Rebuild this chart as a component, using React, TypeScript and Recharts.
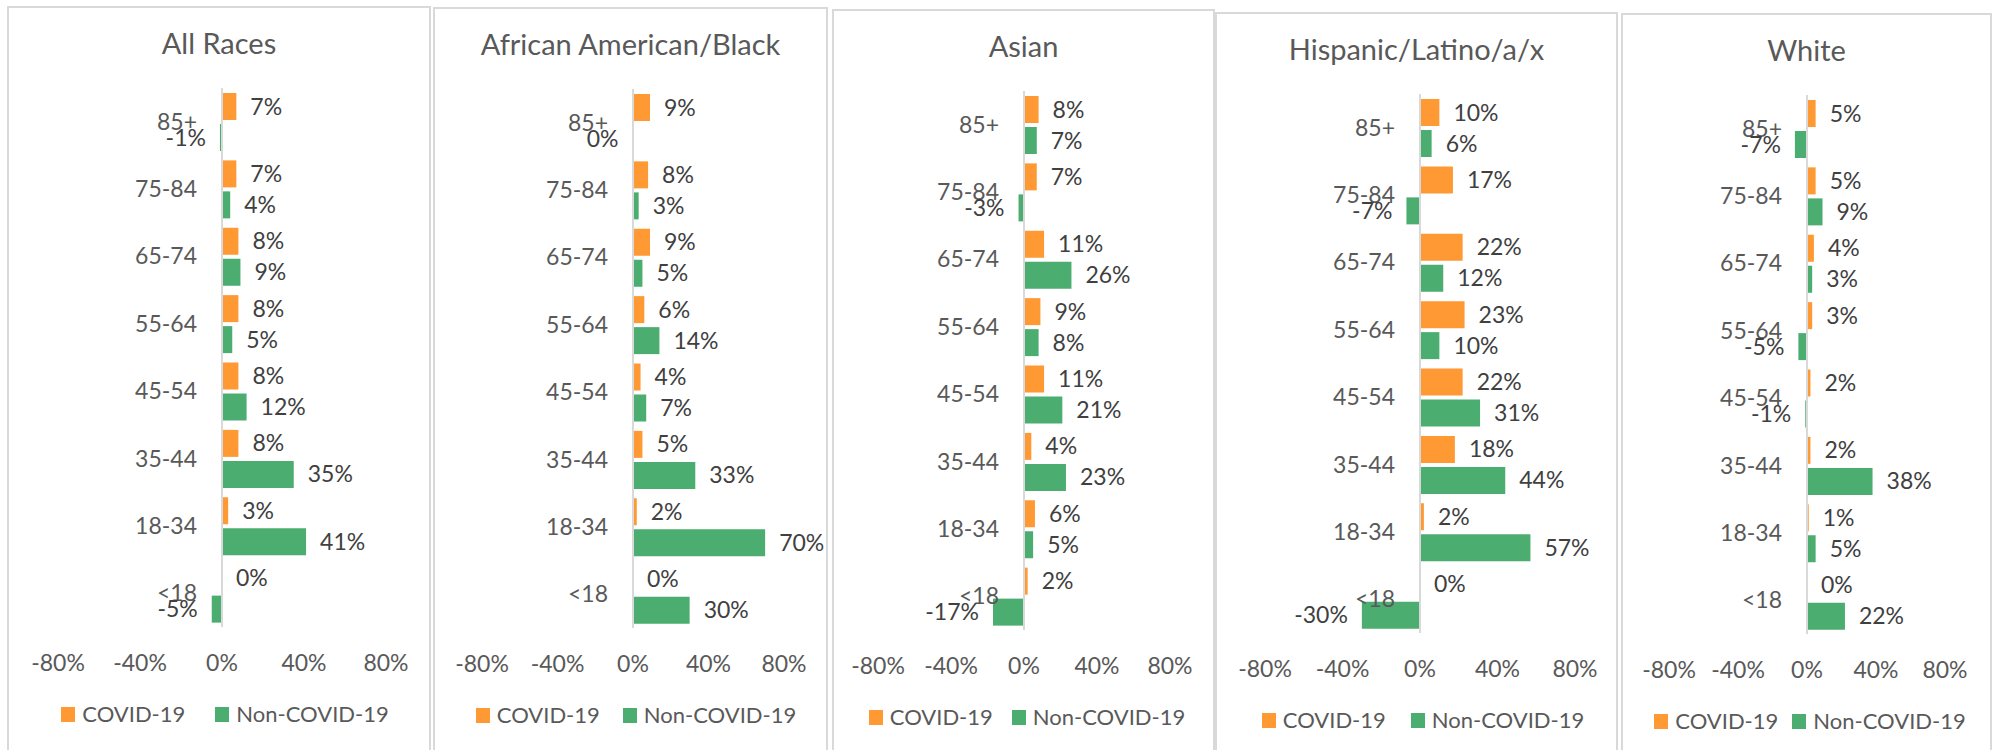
import { BarChart, Bar, XAxis, YAxis, ReferenceLine, LabelList, Legend } from "recharts";

// age bands, top to bottom
const ageGroups = ["85+", "75-84", "65-74", "55-64", "45-54", "35-44", "18-34", "<18"];
const xTicks = [-80, -40, 0, 40, 80];

// % change by race / ethnicity
const allRacesCovid = [7, 7, 8, 8, 8, 8, 3, 0];
const allRacesNonCovid = [-1, 4, 9, 5, 12, 35, 41, -5];
const blackCovid = [9, 8, 9, 6, 4, 5, 2, 0];
const blackNonCovid = [-0.3, 3, 5, 14, 7, 33, 70, 30];
const asianCovid = [8, 7, 11, 9, 11, 4, 6, 2];
const asianNonCovid = [7, -3, 26, 8, 21, 23, 5, -17];
const latinoCovid = [10, 17, 22, 23, 22, 18, 2, 0];
const latinoNonCovid = [6, -7, 12, 10, 31, 44, 57, -30];
const whiteCovid = [5, 5, 4, 3, 2, 2, 1, 0];
const whiteNonCovid = [-7, 9, 3, -5, -1, 38, 5, 22];

const ORANGE = "#FF9933";
const GREEN = "#4CAD70";
const TEXT = "#595959";
const FONT = "Lato, 'Open Sans', sans-serif";

const CHART_H = 740;
const PLOT_TOP = 82;
const PLOT_BOTTOM = 621;

const panels = [
  { title: "All Races", covid: allRacesCovid, nonCovid: allRacesNonCovid, left: 7, top: 6, width: 424, zero: 215, half: 164, legendGap: 30 },
  { title: "African American/Black", covid: blackCovid, nonCovid: blackNonCovid, left: 433, top: 7, width: 395, zero: 200, half: 151, legendGap: 23 },
  { title: "Asian", covid: asianCovid, nonCovid: asianNonCovid, left: 832, top: 9, width: 383, zero: 192, half: 146, legendGap: 19 },
  { title: "Hispanic/Latino/a/x", covid: latinoCovid, nonCovid: latinoNonCovid, left: 1215, top: 12, width: 403, zero: 205, half: 155, legendGap: 25 },
  { title: "White", covid: whiteCovid, nonCovid: whiteNonCovid, left: 1621, top: 13, width: 371, zero: 186, half: 138, legendGap: 14 },
];

const num = (v: any) => {
  const n = Number(v);
  return Number.isFinite(n) ? n : 0;
};

// zero values get a hair-width bar so their "0%" label is still drawn
const hairline = (v: any) => (Number(v) === 0 ? 0.01 : 0);

const BarValueLabel = (props: any) => {
  const vb = props.viewBox || props;
  const v = num(props.value);
  const a = num(vb.x ?? props.x);
  const b = a + num(vb.width ?? props.width);
  const y = num(vb.y ?? props.y);
  const h = num(vb.height ?? props.height);
  const neg = v < 0 || Object.is(v, -0);
  const end = neg ? Math.min(a, b) : Math.max(a, b);
  return (
    <text
      x={neg ? end - 14 : end + 14}
      y={y + h / 2}
      dy="0.35em"
      textAnchor={neg ? "end" : "start"}
      fill="#404040"
      fontSize={23}
      fontFamily={FONT}
    >
      {`${Math.round(v)}%`}
    </text>
  );
};

function Panel({ p }: { p: (typeof panels)[number] }) {
  const data = ageGroups.map((age, i) => ({ age, covid: p.covid[i], nonCovid: p.nonCovid[i] }));
  const plotLeft = p.zero - p.half;
  const plotRight = p.width - (p.zero + p.half);
  const legendShift = (p.zero + 3 - p.width / 2) * 2;

  const CategoryTick = (props: any) => (
    <text x={p.zero - 25} y={props.y} dy="0.35em" textAnchor="end" fill={TEXT} fontSize={23} fontFamily={FONT}>
      {props.payload.value}
    </text>
  );
  const ValueTick = (props: any) => (
    <text x={props.x} y={PLOT_BOTTOM + 36} dy="0.35em" textAnchor="middle" fill={TEXT} fontSize={23} fontFamily={FONT}>
      {`${props.payload.value}%`}
    </text>
  );

  const legendItem = (color: string, label: string) => (
    <div style={{ display: "flex", alignItems: "center" }}>
      <span style={{ width: 14, height: 15, background: color, display: "inline-block", marginRight: 7 }} />
      <span>{label}</span>
    </div>
  );

  return (
    <div style={{ position: "absolute", left: p.left, top: p.top, width: p.width, height: 800 }}>
      <div
        style={{
          position: "absolute",
          inset: 0,
          border: "2px solid #d9d9d9",
          boxSizing: "border-box",
        }}
      />
      <div
        style={{
          position: "absolute",
          left: 0,
          width: p.width,
          top: 36,
          transform: "translateY(-50%)",
          textAlign: "center",
          fontFamily: FONT,
          fontSize: 29,
          lineHeight: 1,
          color: TEXT,
        }}
      >
        {p.title}
      </div>
      <div style={{ position: "absolute", left: 0, top: 0 }}>
        <BarChart
          width={p.width}
          height={CHART_H}
          data={data}
          layout="vertical"
          margin={{ top: PLOT_TOP, right: plotRight, bottom: CHART_H - PLOT_BOTTOM - 40, left: plotLeft - 2 }}
          barSize={27}
          barGap={4}
        >
          <XAxis
            type="number"
            domain={[-80, 80]}
            ticks={xTicks}
            allowDataOverflow
            axisLine={false}
            tickLine={false}
            height={40}
            tick={<ValueTick />}
          />
          <YAxis
            type="category"
            dataKey="age"
            width={2}
            axisLine={false}
            tickLine={false}
            interval={0}
            tick={<CategoryTick />}
          />
          <ReferenceLine x={0} stroke="#d9d9d9" strokeWidth={2} />
          <Bar dataKey="covid" name="COVID-19" fill={ORANGE} minPointSize={hairline} isAnimationActive={false}>
            <LabelList dataKey="covid" content={<BarValueLabel />} />
          </Bar>
          <Bar dataKey="nonCovid" name="Non-COVID-19" fill={GREEN} minPointSize={hairline} isAnimationActive={false}>
            <LabelList dataKey="nonCovid" content={<BarValueLabel />} />
          </Bar>
          <Legend
            layout="horizontal"
            verticalAlign="middle"
            align="center"
            wrapperStyle={{ top: 695, left: 0, width: p.width, height: 26 }}
            content={() => (
              <div
                style={{
                  display: "flex",
                  justifyContent: "center",
                  alignItems: "center",
                  gap: p.legendGap,
                  paddingLeft: legendShift > 0 ? legendShift : 0,
                  fontFamily: FONT,
                  fontSize: 22,
                  lineHeight: "26px",
                  color: TEXT,
                }}
              >
                {legendItem(ORANGE, "COVID-19")}
                {legendItem(GREEN, "Non-COVID-19")}
              </div>
            )}
          />
        </BarChart>
      </div>
    </div>
  );
}

export default function App() {
  return (
    <div
      style={{
        position: "absolute",
        left: 0,
        top: 0,
        width: 2001,
        height: 750,
        overflow: "hidden",
        background: "#fff",
      }}
    >
      {panels.map((p) => (
        <Panel key={p.title} p={p} />
      ))}
    </div>
  );
}
